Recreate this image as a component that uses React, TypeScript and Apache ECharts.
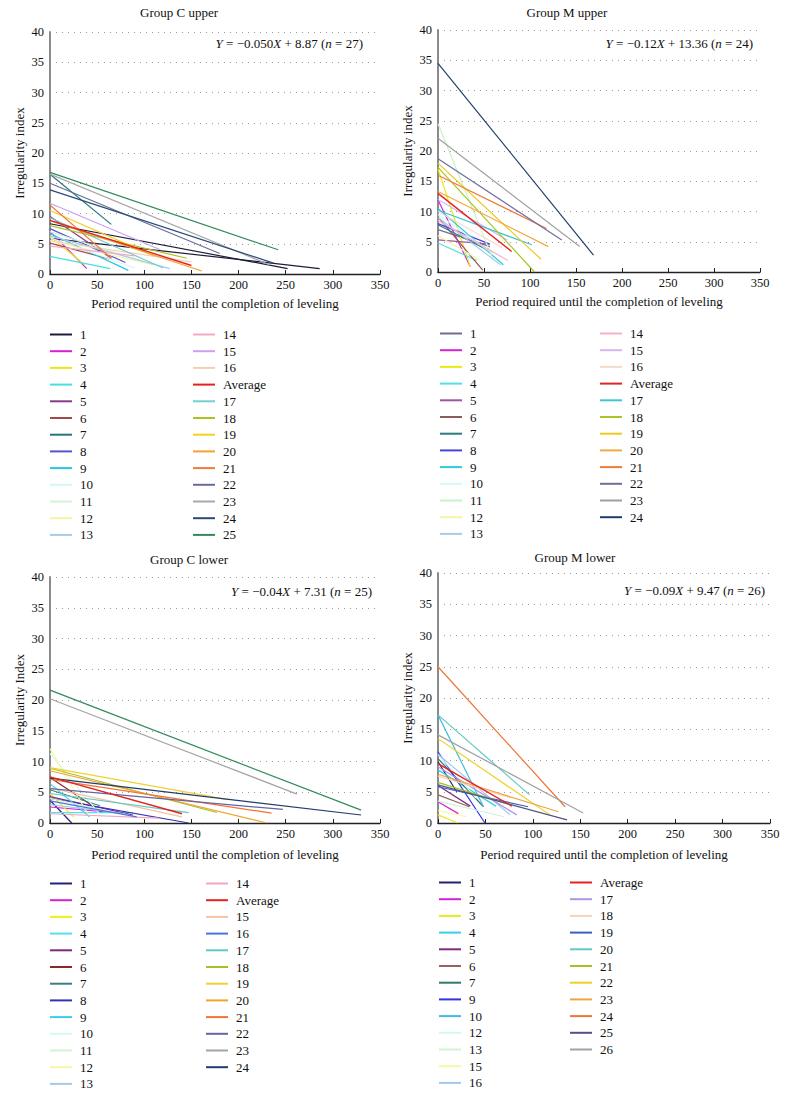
import React, { useEffect, useRef } from "react";
import * as echarts from "echarts";

// ---------- DATA ----------
// Each segment: name, irregularity at start (x = 0), end period, end irregularity
// Group C upper
const cuNames = ["1", "1", "2", "3", "4", "5", "6", "7", "8", "9", "10", "11", "12", "13", "14", "15", "16", "Average", "17", "18", "19", "20", "21", "22", "23", "24", "25"];
const cuStartY = [8.3, 5.9, 7.0, 6.2, 2.9, 9.5, 5.1, 16.5, 7.5, 6.7, 6.0, 7.0, 5.5, 6.3, 4.6, 11.7, 5.5, 8.87, 9.3, 8.0, 10.5, 8.8, 11.4, 15.0, 16.5, 13.9, 16.8];
const cuEndX = [252, 286, 39, 37, 64, 65, 63, 65, 80, 83, 90, 100, 110, 127, 90, 117, 150, 150, 120, 145, 110, 161, 65, 180, 233, 237, 242];
const cuEndY = [0.9, 0.9, 0.9, 1.5, 0.9, 2.6, 2.5, 8.2, 1.9, 0.6, 1.0, 2.0, 1.5, 0.9, 3.0, 4.0, 2.0, 1.4, 1.0, 2.6, 3.0, 0.5, 2.6, 3.4, 1.5, 1.8, 4.0];
const cuLegend1 = ["1", "2", "3", "4", "5", "6", "7", "8", "9", "10", "11", "12", "13"];
const cuLegend2 = ["14", "15", "16", "Average", "17", "18", "19", "20", "21", "22", "23", "24", "25"];

// Group M upper
const muNames = ["1", "2", "3", "4", "5", "6", "7", "8", "9", "10", "11", "12", "13", "14", "15", "16", "Average", "17", "18", "19", "20", "21", "22", "23", "24"];
const muStartY = [7.0, 11.9, 17.0, 4.8, 5.3, 9.1, 7.8, 8.0, 10.5, 9.5, 24.5, 6.0, 9.0, 8.5, 12.0, 10.0, 13.0, 10.2, 17.3, 18.0, 13.3, 16.0, 18.7, 22.1, 34.5];
const muEndX = [56.5, 35, 35, 42, 56, 48.6, 58, 56.5, 71, 60, 60, 45, 68, 76, 75, 70, 80, 102, 105, 112, 120, 118, 134.5, 154, 169];
const muEndY = [4.2, 0.9, 0.9, 1.9, 4.6, 0.3, 3.3, 4.6, 1.2, 3.0, 2.0, 2.0, 1.2, 1.9, 5.3, 4.0, 3.4, 4.5, 0.0, 2.1, 4.2, 7.2, 5.3, 4.2, 2.8];
const muLegend1 = ["1", "2", "3", "4", "5", "6", "7", "8", "9", "10", "11", "12", "13"];
const muLegend2 = ["14", "15", "16", "Average", "17", "18", "19", "20", "21", "22", "23", "24"];

// Group C lower
const clNames = ["1", "2", "3", "4", "5", "6", "7", "8", "9", "10", "11", "12", "13", "14", "Average", "15", "16", "17", "18", "19", "20", "21", "22", "23", "24", "25"];
const clStartY = [3.7, 2.6, 4.8, 1.7, 4.3, 7.4, 5.4, 4.0, 6.4, 11.3, 4.0, 12.1, 3.0, 1.5, 7.5, 5.7, 3.6, 4.8, 8.9, 9.0, 8.5, 7.1, 5.6, 20.2, 7.3, 21.6];
const clEndX = [23, 60, 25, 88, 88, 55, 53, 147, 42, 55, 60, 40, 80, 115, 140, 140, 92, 147, 177, 189, 230, 235, 247, 262, 330, 330];
const clEndY = [0.0, 1.8, 1.0, 1.7, 1.3, 1.8, 2.8, 0.0, 1.0, 1.0, 2.0, 1.5, 1.5, 0.8, 1.5, 1.0, 1.0, 1.7, 1.7, 3.8, 0.0, 1.6, 2.2, 4.7, 1.3, 2.1];
const clLegend1 = ["1", "2", "3", "4", "5", "6", "7", "8", "9", "10", "11", "12", "13"];
const clLegend2 = ["14", "Average", "15", "16", "17", "18", "19", "20", "21", "22", "23", "24"];

// Group M lower
const mlNames = ["1", "2", "3", "4", "5", "6", "7", "9", "10", "12", "13", "15", "16", "Average", "17", "18", "19", "20", "21", "22", "23", "24", "25", "26"];
const mlStartY = [9.8, 3.4, 1.3, 8.5, 6.0, 4.5, 10.3, 11.4, 17.3, 11.0, 3.5, 2.0, 11.0, 9.5, 9.0, 7.5, 5.8, 17.3, 6.5, 13.5, 7.8, 25.0, 6.1, 14.1];
const mlEndX = [19.7, 21.4, 21, 61, 34, 33, 48, 49.5, 48, 40, 70, 30, 76, 78, 83, 77, 95, 96.5, 74, 118, 127, 134, 136, 153];
const mlEndY = [5.0, 1.5, 0.0, 2.7, 2.7, 2.6, 2.6, 0.0, 2.6, 4.0, 1.0, 1.0, 1.3, 2.7, 1.3, 4.0, 2.6, 4.5, 3.0, 1.3, 1.8, 2.6, 0.5, 1.6];
const mlLegend1 = ["1", "2", "3", "4", "5", "6", "7", "9", "10", "12", "13", "15", "16"];
const mlLegend2 = ["Average", "17", "18", "19", "20", "21", "22", "23", "24", "25", "26"];

// Axis ticks
const xTicks = [0, 50, 100, 150, 200, 250, 300, 350];
const yTicks = [0, 5, 10, 15, 20, 25, 30, 35, 40];

// ---------- STYLES ----------
const cuColors: Record<string, string> = {
  "1": "#1c1c3a", "2": "#d61fd6", "3": "#eaea10", "4": "#46dfe8", "5": "#8a3a8a", "6": "#a24848",
  "7": "#23787a", "8": "#5454cc", "9": "#27c6e2", "10": "#d4f6f6", "11": "#d6f2d6", "12": "#f5f3a8",
  "13": "#a8cbe8", "14": "#f2a9c6", "15": "#c9a2ee", "16": "#f4cfb2", "Average": "#e42222", "17": "#72cfcc",
  "18": "#a9c522", "19": "#efd023", "20": "#f1a236", "21": "#f07a3c", "22": "#6b6b9b", "23": "#a9a9a9",
  "24": "#2c4a78", "25": "#2f8c5a",
};
const muColors: Record<string, string> = {
  "1": "#6e6e90", "2": "#d622d6", "3": "#eaea10", "4": "#52dfe8", "5": "#a054a0", "6": "#8e5a5a",
  "7": "#2d7a80", "8": "#4646dc", "9": "#2ccbe0", "10": "#d4f8f6", "11": "#c8f2c8", "12": "#f5f3a8",
  "13": "#a8cbe8", "14": "#f2b2cf", "15": "#d4b6f2", "16": "#f2dccc", "Average": "#e42222", "17": "#3fc6d6",
  "18": "#a9c522", "19": "#efc823", "20": "#f2aa40", "21": "#f07a3c", "22": "#6f6f9f", "23": "#a0a0a0",
  "24": "#1f3d6a",
};
const clColors: Record<string, string> = {
  "1": "#22227a", "2": "#d622d6", "3": "#f0f010", "4": "#52e2ee", "5": "#7e2a7e", "6": "#882a2a",
  "7": "#3a8080", "8": "#3232b4", "9": "#34d0f0", "10": "#d4f8f6", "11": "#d2f2d2", "12": "#f8f6a2",
  "13": "#a2c8ee", "14": "#f2a6c4", "Average": "#e42222", "15": "#f2c4a4", "16": "#4a74e2", "17": "#62c8c2",
  "18": "#a4c224", "19": "#f0d032", "20": "#f0a428", "21": "#f07434", "22": "#6464a2", "23": "#a4a4a4",
  "24": "#203c6c", "25": "#2f8c5a",
};
const mlColors: Record<string, string> = {
  "1": "#22226c", "2": "#d622d6", "3": "#eaea22", "4": "#34d2ea", "5": "#822a82", "6": "#946464",
  "7": "#2c7a6c", "9": "#3434e2", "10": "#44bae2", "12": "#d2f8f6", "13": "#d2f2d2", "15": "#f8f6a2",
  "16": "#a2c8f0", "Average": "#e42222", "17": "#b294e2", "18": "#f8d2b4", "19": "#3462c2", "20": "#62c8c8",
  "21": "#a4c224", "22": "#f0d024", "23": "#f0a444", "24": "#f07434", "25": "#525282", "26": "#a2a2a2",
};

const FONT = '"Liberation Serif", "DejaVu Serif", serif';

type PanelData = {
  key: string; names: string[]; y0: number[]; x1: number[]; y1: number[];
  colors: Record<string, string>; legend1: string[]; legend2: string[];
  title: string; eq: [string, string, string]; yName: string;
};

const panelsData: PanelData[] = [
  { key: "cu", names: cuNames, y0: cuStartY, x1: cuEndX, y1: cuEndY, colors: cuColors, legend1: cuLegend1, legend2: cuLegend2,
    title: "Group C upper", eq: ["\u22120.050", "8.87", "27"], yName: "Irregularity index" },
  { key: "mu", names: muNames, y0: muStartY, x1: muEndX, y1: muEndY, colors: muColors, legend1: muLegend1, legend2: muLegend2,
    title: "Group M upper", eq: ["\u22120.12", "13.36", "24"], yName: "Irregularity index" },
  { key: "cl", names: clNames, y0: clStartY, x1: clEndX, y1: clEndY, colors: clColors, legend1: clLegend1, legend2: clLegend2,
    title: "Group C lower", eq: ["\u22120.04", "7.31", "25"], yName: "Irregularity Index" },
  { key: "ml", names: mlNames, y0: mlStartY, x1: mlEndX, y1: mlEndY, colors: mlColors, legend1: mlLegend1, legend2: mlLegend2,
    title: "Group M lower", eq: ["\u22120.09", "9.47", "26"], yName: "Irregularity index" },
];

// layout (pixels)
const layouts = [
  { left: 50, top: 32, width: 330, height: 242, titleX: 179, titleY: 12, eqX: 363, eqY: 43, lg: [[50, 327], [193, 327]] },
  { left: 438, top: 30, width: 322, height: 242, titleX: 567, titleY: 12, eqX: 753, eqY: 43, lg: [[440, 326], [600, 326]] },
  { left: 50, top: 577, width: 330, height: 246, titleX: 189, titleY: 559, eqX: 372, eqY: 591, lg: [[50, 876], [206, 876]] },
  { left: 438, top: 573, width: 332, height: 250, titleX: 575, titleY: 557, eqX: 765, eqY: 590, lg: [[439, 875], [570, 875]] },
];

function buildOption() {
  const grid: any[] = [];
  const xAxis: any[] = [];
  const yAxis: any[] = [];
  const series: any[] = [];
  const legend: any[] = [];
  const graphic: any[] = [];

  panelsData.forEach((p, i) => {
    const L = layouts[i];
    grid.push({ left: L.left, top: L.top, width: L.width, height: L.height, containLabel: false });
    xAxis.push({
      type: "value", gridIndex: i, min: xTicks[0], max: xTicks[xTicks.length - 1], interval: xTicks[1] - xTicks[0],
      name: "Period required until the completion of leveling", nameLocation: "middle", nameGap: i < 2 ? 23 : 25,
      nameTextStyle: { fontFamily: FONT, fontSize: 13, color: "#111" },
      axisLine: { show: true, onZero: false, lineStyle: { color: "#222", width: 1.3 } },
      axisTick: { show: true, inside: true, length: 4, lineStyle: { color: "#222" } },
      axisLabel: { fontFamily: FONT, fontSize: 12.5, color: "#111", margin: 4 },
      splitLine: { show: false },
    });
    yAxis.push({
      type: "value", gridIndex: i, min: yTicks[0], max: yTicks[yTicks.length - 1], interval: yTicks[1] - yTicks[0],
      name: p.yName, nameLocation: "middle", nameGap: 24, nameRotate: 90,
      nameTextStyle: { fontFamily: FONT, fontSize: 13, color: "#111" },
      axisLine: { show: true, onZero: false, lineStyle: { color: "#8a8a8a", width: 2 } },
      axisTick: { show: false },
      axisLabel: { fontFamily: FONT, fontSize: 12.5, color: "#111", margin: 6 },
      splitLine: { show: true, lineStyle: { color: "#9a9a9a", width: 1, type: [1, 5] } },
    });
    p.names.forEach((n, k) => {
      const c = p.colors[n];
      series.push({
        type: "line", name: p.key + "|" + n, xAxisIndex: i, yAxisIndex: i,
        data: [[0, p.y0[k]], [p.x1[k], p.y1[k]]],
        symbol: "none", silent: true, color: c,
        lineStyle: { color: c, width: n === "Average" ? 1.4 : 1.2 },
        itemStyle: { color: c },
        z: n === "Average" ? 3 : 2,
      });
    });
    [p.legend1, p.legend2].forEach((col, j) => {
      legend.push({
        orient: "vertical", left: L.lg[j][0], top: L.lg[j][1], padding: 0,
        data: col.map((n) => p.key + "|" + n),
        icon: "rect", itemWidth: 22, itemHeight: 2, itemGap: 1.7, selectedMode: false,
        formatter: (name: string) => name.split("|")[1],
        textStyle: { fontFamily: FONT, fontSize: 13, color: "#111", lineHeight: 15, padding: [0, 0, 0, 3] },
      });
    });
    graphic.push({
      type: "text", x: L.titleX, y: L.titleY,
      style: { text: p.title, fontFamily: FONT, fontSize: 13, fill: "#111", textAlign: "center", textVerticalAlign: "middle" },
    });
    const it = { fontFamily: FONT, fontSize: 13, fill: "#111", fontStyle: "italic" };
    const rm = { fontFamily: FONT, fontSize: 13, fill: "#111" };
    graphic.push({
      type: "text", x: L.eqX, y: L.eqY,
      style: {
        text: `{i|Y}{r| = ${p.eq[0]}}{i|X}{r| + ${p.eq[1]} (}{i|n}{r| = ${p.eq[2]})}`,
        rich: { i: it, r: rm },
        fontFamily: FONT, fontSize: 13, fill: "#111", textAlign: "right", textVerticalAlign: "middle",
      },
    });
  });

  return {
    animation: false,
    backgroundColor: "#ffffff",
    grid, xAxis, yAxis, series, legend, graphic,
  };
}

export default function App() {
  const ref = useRef<HTMLDivElement>(null);
  useEffect(() => {
    if (!ref.current) return;
    const chart = echarts.init(ref.current, undefined, { renderer: "svg" });
    chart.setOption(buildOption() as any);
    return () => chart.dispose();
  }, []);
  return (
    <div
      ref={ref}
      style={{ position: "absolute", left: 0, top: 0, width: 786, height: 1097, background: "#fff" }}
    />
  );
}
